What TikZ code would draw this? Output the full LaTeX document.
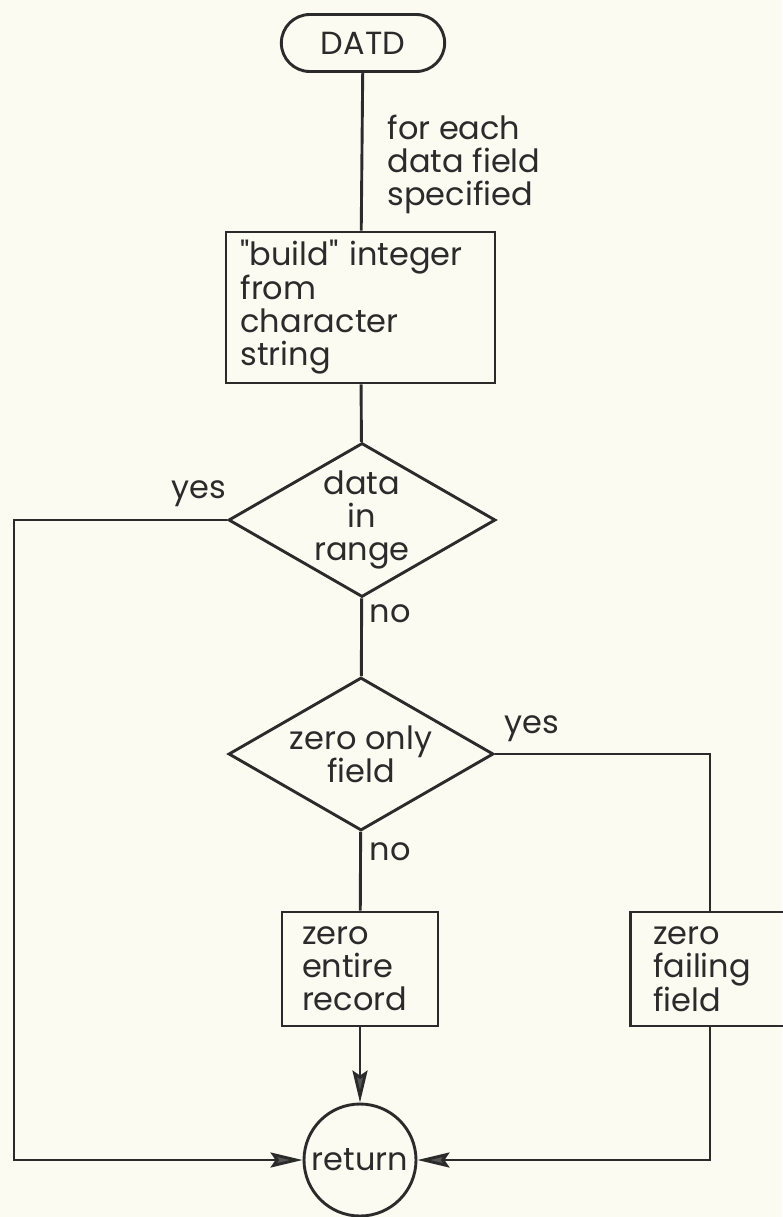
\documentclass[tikz,border=0pt]{standalone}
\usepackage{fontspec}
\setmainfont{Poppins}
% same face without the TeX quote mapping, for straight quotes
\newfontfamily\plainquote{Poppins}
\usetikzlibrary{arrows.meta,shapes.geometric,shapes.misc}

\definecolor{ink}{HTML}{2B2B2B}
\definecolor{paper}{HTML}{FCFBF2}

\newcommand{\dq}{{\plainquote"}}

\begin{document}
\begin{tikzpicture}[x=1pt,y=-1pt,
  line/.style={draw=ink, line width=2.9pt},
  arr/.style={line, -{Stealth[length=32pt,width=15pt,inset=5pt,fill=ink!80]}},
  txt/.style={font=\fontsize{32}{33}\selectfont, text=ink},
  lbl/.style={txt},
  proc/.style={line, txt, rectangle, inner sep=0pt, align=left},
  decide/.style={line, diamond, inner sep=0pt},
]
% page
\fill[paper] (0,0) rectangle (782,1217);
\useasboundingbox (0,0) rectangle (782,1217);

% nodes
\node[line, txt, rounded rectangle, minimum width=170pt, minimum height=57pt]
  (start) at (363,43) {DATD};

\node[proc, minimum width=269pt, minimum height=151pt, text width=240pt]
  (build) at (360.5,307.5)
  {\dq build\dq{} integer\\from\\character\\string};

\node[decide, minimum width=267pt, minimum height=154pt,
      label={[txt, align=center]center:data\\in\\range}] (range) at (362,520) {};

\node[decide, minimum width=265pt, minimum height=153pt,
      label={[txt, align=center]center:zero only\\field}] (zonly) at (361,754) {};

\node[proc, minimum width=156pt, minimum height=114pt, text width=116pt]
  (zrec) at (360,969) {zero\\entire\\record};

\node[proc, minimum width=155pt, minimum height=114pt, text width=110pt]
  (zfld) at (708,969) {zero\\failing\\field};

\node[line, txt, circle, minimum size=112pt, inner sep=0pt]
  (ret) at (360,1160) {return};

% labels
\node[lbl, anchor=west, align=left] (loop) at (384,164)
  {for each\\data field\\specified};
\node[lbl] (yes1) at (199,494) {yes};
\node[lbl, anchor=west] (no1) at (366,614) {no};
\node[lbl] (yes2) at (532,729) {yes};
\node[lbl, anchor=west] (no2) at (366,852) {no};

% corner points
\coordinate (cl1) at (14,520);
\coordinate (cl2) at (14,1160);
\coordinate (cr1) at (710,754);
\coordinate (cr2) at (710,1160);

% connectors
\draw[line] (start) -- (build);
\draw[line] (build) -- (range);
\draw[line] (range) -- (zonly);
\draw[line] (zonly) -- (zrec);
\draw[arr] (zrec) -- (ret);
\draw[arr] (range.west) -- (cl1) -- (cl2) -- (ret.west);
\draw[line] (zonly.east) -- (cr1) -- (cr1 |- zfld.north);
\draw[arr] (cr1 |- zfld.south) -- (cr2) -- (ret.east);
\end{tikzpicture}
\end{document}
